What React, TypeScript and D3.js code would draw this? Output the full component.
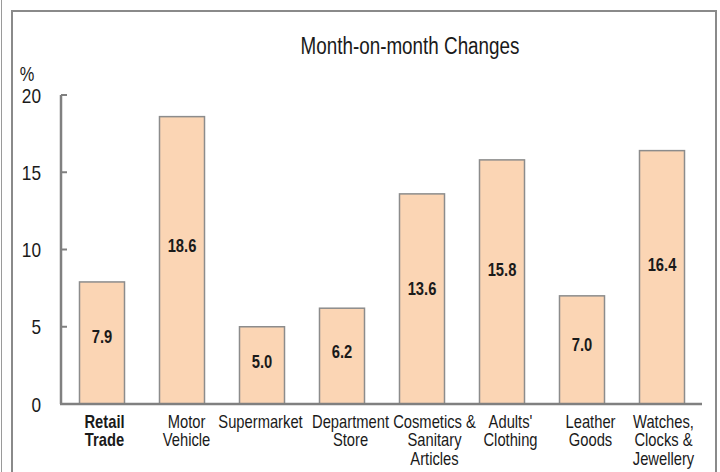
import { useEffect, useRef } from 'react';
import * as d3 from 'd3';

const categories = [
  'Retail Trade',
  'Motor Vehicle',
  'Supermarket',
  'Department Store',
  'Cosmetics & Sanitary Articles',
  "Adults' Clothing",
  'Leather Goods',
  'Watches, Clocks & Jewellery',
];
const labelLines = [
  ['Retail', 'Trade'],
  ['Motor', 'Vehicle'],
  ['Supermarket'],
  ['Department', 'Store'],
  ['Cosmetics &', 'Sanitary', 'Articles'],
  ["Adults'", 'Clothing'],
  ['Leather', 'Goods'],
  ['Watches,', 'Clocks &', 'Jewellery'],
];
const values = [7.9, 18.6, 5.0, 6.2, 13.6, 15.8, 7.0, 16.4];
const yTicks = [0, 5, 10, 15, 20];

// small horizontal nudges of the wrapped category labels, as in the original
const labelShift = [3, 5, -1, 9, 13, 9, 9, 2];

const FONT = "'Liberation Sans', Arial, sans-serif";
const SQUEEZE = 0.82; // narrow look of the original font

type Sel = d3.Selection<SVGSVGElement, unknown, null, undefined>;

function narrowText(
  svg: Sel, x: number, y: number, str: string | string[],
  size: number, opts: { weight?: string; anchor?: string; lineH?: number } = {}
) {
  const g = svg.append('g').attr('transform', `translate(${x},${y}) scale(${SQUEEZE},1)`);
  const t = g.append('text')
    .attr('text-anchor', opts.anchor || 'middle')
    .attr('font-family', FONT)
    .attr('font-size', size)
    .attr('font-weight', opts.weight || 'normal')
    .attr('fill', '#1a1a1a');
  const lines = Array.isArray(str) ? str : [str];
  lines.forEach((ln, j) => {
    t.append('tspan').attr('x', 0).attr('y', j * (opts.lineH || size)).text(ln);
  });
  return t;
}

export default function App() {
  const svgRef = useRef<SVGSVGElement | null>(null);

  useEffect(() => {
    if (!svgRef.current) return;
    const svg = d3.select(svgRef.current) as Sel;
    svg.selectAll('*').remove();

    const height = 472;
    const frame = '#8a8a8a';

    // frame
    svg.append('line')
      .attr('x1', 1.5).attr('x2', 1.5).attr('y1', 0).attr('y2', height)
      .attr('stroke', '#9a9a9a').attr('stroke-width', 1);
    svg.append('path')
      .attr('d', `M12,${height} V11 H716 V${height}`)
      .attr('fill', 'none').attr('stroke', frame).attr('stroke-width', 2);

    const x = d3.scaleBand<string>()
      .domain(categories)
      .range([61, 702])
      .paddingInner(0.4375)
      .paddingOuter(0.225);

    const y = d3.scaleLinear().domain([0, 20]).range([404, 95]);

    // title and unit
    narrowText(svg, 410, 54, 'Month-on-month Changes', 23);
    narrowText(svg, 27, 81, '%', 20);

    // bars
    svg.selectAll('.bar')
      .data(values)
      .enter()
      .append('rect')
      .attr('class', 'bar')
      .attr('x', (d, i) => x(categories[i])! + 0.5)
      .attr('y', d => y(d))
      .attr('width', x.bandwidth())
      .attr('height', d => y(0) - y(d))
      .attr('fill', '#fbd5b4')
      .attr('stroke', '#8c8c8c')
      .attr('stroke-width', 1.5);

    // value labels
    values.forEach((v, i) => {
      narrowText(svg, x(categories[i])! + x.bandwidth() / 2 + 0.5, y(v * 0.55) + 6.5,
        v.toFixed(1), 18, { weight: 'bold' });
    });

    // y axis
    const axisColor = '#808080';
    svg.append('line')
      .attr('x1', 61).attr('x2', 61).attr('y1', y(20)).attr('y2', y(0))
      .attr('stroke', axisColor).attr('stroke-width', 2.5);
    svg.selectAll('.ytick')
      .data(yTicks)
      .enter()
      .append('line')
      .attr('x1', 61).attr('x2', 67)
      .attr('y1', d => y(d)).attr('y2', d => y(d))
      .attr('stroke', axisColor).attr('stroke-width', 2);
    yTicks.forEach(t => {
      narrowText(svg, 41, y(t) + 7.5, String(t), 21, { anchor: 'end' });
    });

    // x axis
    svg.append('line')
      .attr('x1', 60).attr('x2', 702).attr('y1', y(0)).attr('y2', y(0))
      .attr('stroke', axisColor).attr('stroke-width', 2.5);

    // category labels
    labelLines.forEach((lines, i) => {
      const cx = x(categories[i])! + x.bandwidth() / 2 + labelShift[i];
      narrowText(svg, cx, 428, lines, 18, { weight: i === 0 ? 'bold' : 'normal', lineH: 18.5 });
    });
  }, []);

  return (
    <svg
      ref={svgRef}
      width={720}
      height={472}
      style={{ position: 'absolute', left: 0, top: 0, background: '#fff' }}
    />
  );
}
